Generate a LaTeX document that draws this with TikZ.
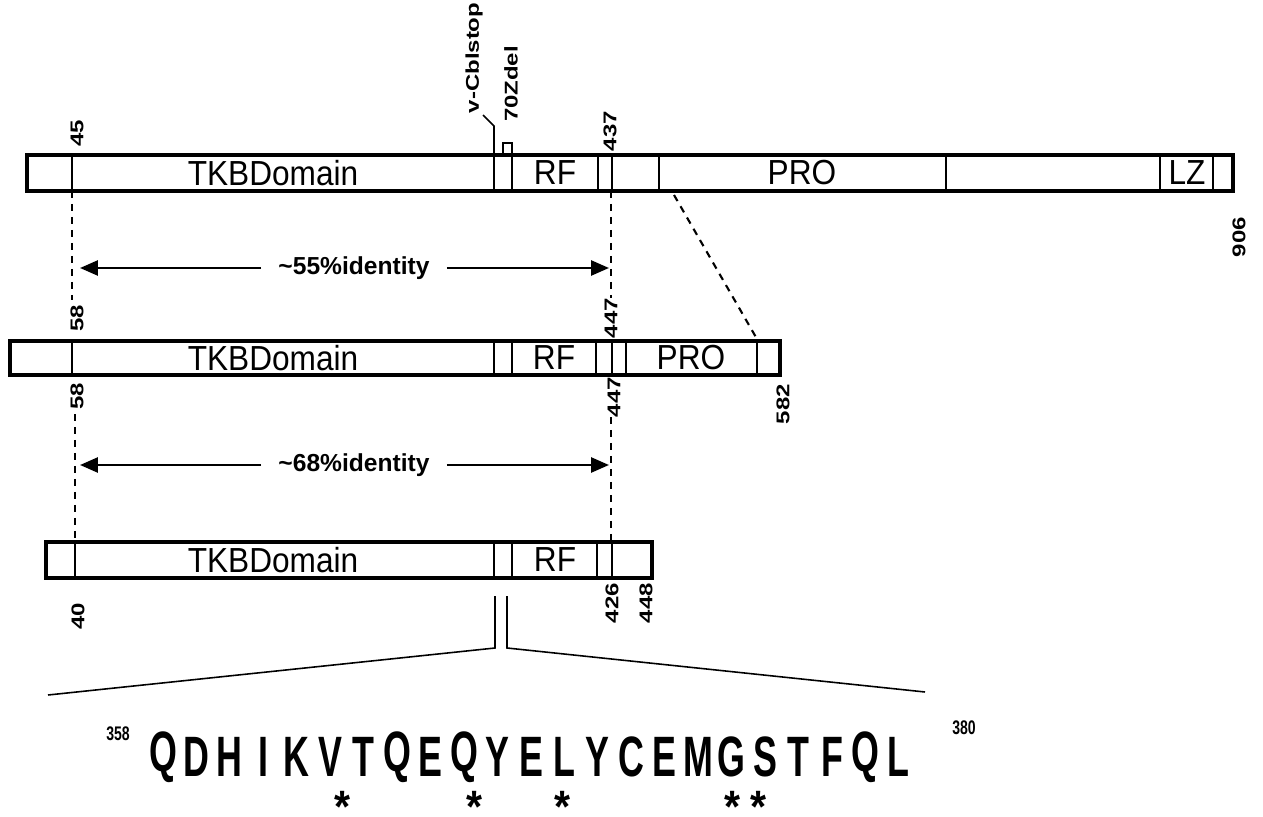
\documentclass[tikz,border=0pt]{standalone}
\usepackage{fontspec}
\setmainfont{Liberation Sans}
\usetikzlibrary{arrows.meta}
\begin{document}
\begin{tikzpicture}[x=0.02cm,y=-0.02cm,
  barbox/.style={line width=1.9pt},
  divline/.style={line width=1.3pt},
  dsh/.style={line width=1.2pt,dash pattern=on 0.14cm off 0.12cm},
  thinline/.style={line width=0.9pt},
  dom/.style={inner sep=0pt,font=\fontsize{18}{20}\selectfont},
  num/.style={inner sep=0pt,rotate=90,font=\bfseries\fontsize{10.5}{12}\selectfont},
  idtext/.style={inner xsep=0.34cm,inner ysep=0pt,font=\bfseries\fontsize{14}{16}\selectfont},
  idarrow/.style={line width=1.5pt,-{Triangle[length=0.36cm,width=0.3cm]}},
  seq/.style={inner sep=0pt,font=\bfseries\fontsize{12}{13}\selectfont},
  staro/.style={inner sep=0pt,font=\bfseries\fontsize{12}{13}\selectfont},
  resnum/.style={inner sep=0pt,font=\bfseries\fontsize{8}{9}\selectfont}
]
\useasboundingbox (0,0) rectangle (1263,817);

% ---------- top bar ----------
\draw[barbox] (27,155) rectangle (1233,191);
\foreach \x in {72,494,512,598,612,659,946,1160,1213}
  \draw[divline] (\x,155) -- (\x,191);
\node[dom] (tkbA) at (273,173) {\scalebox{1}[1.1]{TKBDomain}};
\node[dom] (rfA) at (555,173) {\scalebox{1}[1.1]{RF}};
\node[dom] (proA) at (802,173) {\scalebox{1}[1.1]{PRO}};
\node[dom] (lzA) at (1187,173) {\scalebox{1}[1.1]{LZ}};

% ---------- middle bar ----------
\draw[barbox] (10,341) rectangle (780,375);
\foreach \x in {72,494,512,596,612,626,757}
  \draw[divline] (\x,341) -- (\x,375);
\node[dom] (tkbB) at (273,358) {\scalebox{1}[1.1]{TKBDomain}};
\node[dom] (rfB) at (554,358) {\scalebox{1}[1.1]{RF}};
\node[dom] (proB) at (691,358) {\scalebox{1}[1.1]{PRO}};

% ---------- bottom bar ----------
\draw[barbox] (46,542) rectangle (652,578);
\foreach \x in {75,494,512,597,612}
  \draw[divline] (\x,542) -- (\x,578);
\node[dom] (tkbC) at (273,560) {\scalebox{1}[1.1]{TKBDomain}};
\node[dom] (rfC) at (555,560) {\scalebox{1}[1.1]{RF}};

% ---------- vertical number labels ----------
\node[num] (n45) at (77,133) {\scalebox{1.3}[1]{45}};
\node[num] (vcbl) at (474,58) {\scalebox{1.3}[1]{v-Cblstop}};
\node[num] (zdel) at (511,84) {\scalebox{1.3}[1]{70Zdel}};
\node[num] (n437) at (610,131) {\scalebox{1.3}[1]{437}};
\node[num] (n906) at (1239,237) {\scalebox{1.3}[1]{906}};
\node[num] (n58a) at (77,318) {\scalebox{1.3}[1]{58}};
\node[num] (n447a) at (611,318) {\scalebox{1.3}[1]{447}};
\node[num] (n58b) at (77,396) {\scalebox{1.3}[1]{58}};
\node[num] (n447b) at (614,397) {\scalebox{1.3}[1]{447}};
\node[num] (n582) at (783,404) {\scalebox{1.3}[1]{582}};
\node[num] (n40) at (78,616) {\scalebox{1.3}[1]{40}};
\node[num] (n426) at (612,603) {\scalebox{1.3}[1]{426}};
\node[num] (n448) at (646,603) {\scalebox{1.3}[1]{448}};

% ---------- markers on top bar ----------
\coordinate (vcA) at (494,155);
\coordinate (vcB) at (494,126);
\coordinate (vcC) at (483,115);
\draw[thinline] (vcA) -- (vcB) -- (vcC);
\coordinate (zdA) at (503,155);
\coordinate (zdB) at (512,155);
\draw[divline] (zdA) -- (503,143) -- (512,143) -- (zdB);

% ---------- dashed alignment lines ----------
\coordinate (d1a) at (72,191);  \coordinate (d1b) at (72,300);
\coordinate (d2a) at (611,191); \coordinate (d2b) at (611,298);
\coordinate (d3a) at (75,414);  \coordinate (d3b) at (75,542);
\coordinate (d4a) at (611,417); \coordinate (d4b) at (611,542);
\coordinate (d5a) at (674,195); \coordinate (d5b) at (757,339);
\draw[dsh] (d1a) -- (d1b);
\draw[dsh] (d2a) -- (d2b);
\draw[dsh] (d3a) -- (d3b);
\draw[dsh] (d4a) -- (d4b);
\draw[dsh] (d5a) -- (d5b);

% ---------- identity arrows ----------
\node[idtext] (id55) at (354,268) {\textasciitilde55\%identity};
\coordinate (a55l) at (80,268); \coordinate (a55r) at (609,268);
\draw[idarrow] (id55) -- (a55l);
\draw[idarrow] (id55) -- (a55r);
\node[idtext] (id68) at (354,465) {\textasciitilde68\%identity};
\coordinate (a68l) at (80,465); \coordinate (a68r) at (609,465);
\draw[idarrow] (id68) -- (a68l);
\draw[idarrow] (id68) -- (a68r);

% ---------- zoom-out lines ----------
\coordinate (zl0) at (495,596); \coordinate (zl1) at (495,648); \coordinate (zl2) at (48,695);
\coordinate (zr0) at (507,596); \coordinate (zr1) at (507,648); \coordinate (zr2) at (925,692);
\draw[thinline] (zl0) -- (zl1) -- (zl2);
\draw[thinline] (zr0) -- (zr1) -- (zr2);

% ---------- sequence ----------
\foreach \c [count=\i] in {Q,D,H,I,K,V,T,Q,E,Q,Y,E,L,Y,C,E,M,G,S,T,F,Q,L}
  \node[seq] (s\i) at ({163+33.45*(\i-1)},757) {\scalebox{1.7}[2.7]{\c}};
\node[resnum] (r358) at (118,734) {\scalebox{1}[1.4]{358}};
\node[resnum] (r380) at (964,728) {\scalebox{1}[1.4]{380}};
\foreach \x [count=\j] in {342,474,562,732,758}
  \node[staro] (st\j) at (\x,797) {\scalebox{1.95}[2.15]{\raisebox{-0.38em}[0.36em][0pt]{*}}};
\end{tikzpicture}
\end{document}
